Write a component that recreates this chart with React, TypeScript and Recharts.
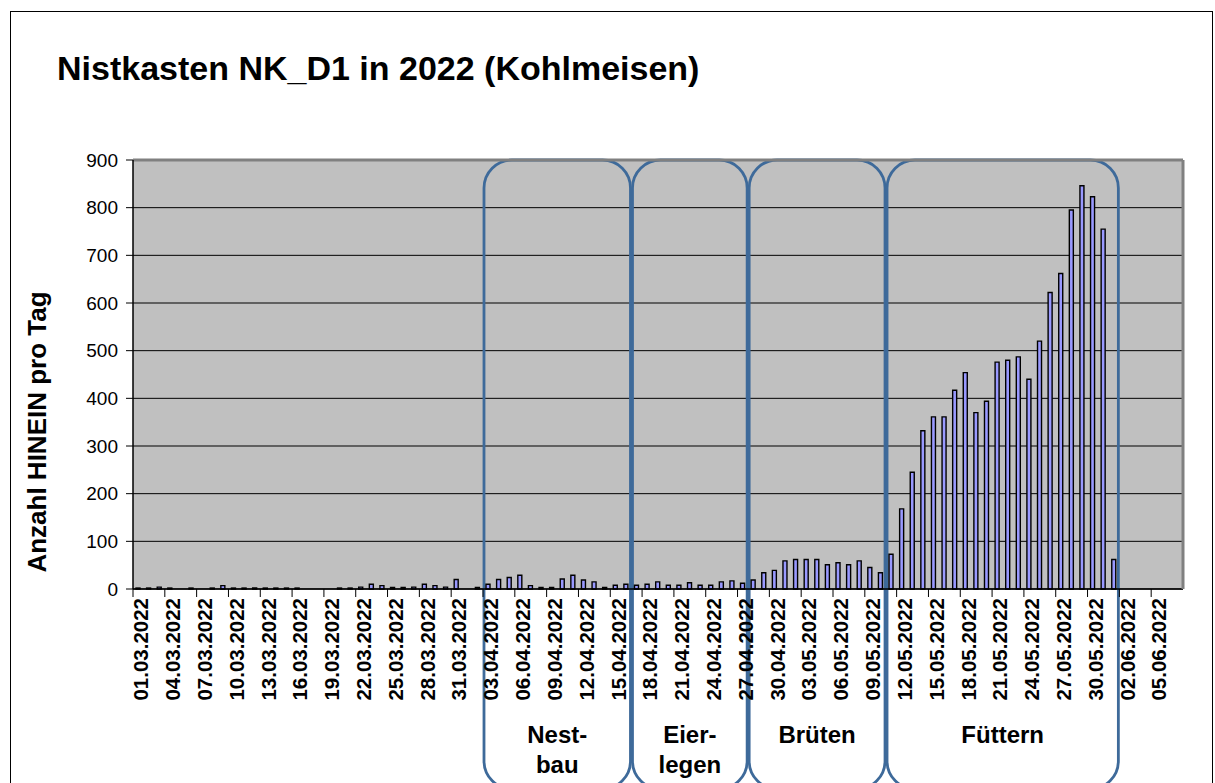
import { BarChart, Bar, XAxis, YAxis, CartesianGrid, ReferenceArea, ReferenceLine } from 'recharts';

// one category per day, 01.03.2022 .. 07.06.2022
const months: [string, number][] = [['03', 31], ['04', 30], ['05', 31], ['06', 7]];
const days: string[] = months.flatMap(([m, n]) =>
  Array.from({ length: n }, (_, i) => `${String(i + 1).padStart(2, '0')}.${m}.2022`));

// Anzahl HINEIN pro Tag
const visits = [
  2, 2, 4, 2, 0, 2, 0, 2, 7, 2,
  2, 2, 2, 2, 2, 2, 0, 0, 0, 2,
  2, 4, 10, 7, 3, 3, 4, 10, 7, 4,
  20, 0, 3, 10, 20, 24, 29, 7, 3, 3,
  21, 29, 19, 15, 3, 8, 10, 8, 10, 15,
  8, 8, 13, 8, 8, 15, 17, 12, 19, 34,
  39, 59, 62, 62, 62, 51, 55, 51, 59, 45,
  34, 73, 168, 245, 332, 361, 361, 417, 454, 370,
  394, 476, 480, 487, 440, 520, 622, 662, 795, 846,
  823, 755, 62, 0, 0, 0, 0, 0, 0,
];

const yTicks = [0, 100, 200, 300, 400, 500, 600, 700, 800, 900];

const phaseNames = [['Nest-', 'bau'], ['Eier-', 'legen'], ['Brüten'], ['Füttern']];
const phaseFrom = ['03.04.2022', '17.04.2022', '28.04.2022', '11.05.2022'];
const phaseTo = ['16.04.2022', '27.04.2022', '10.05.2022', '01.06.2022'];

const data = days.map((day, i) => ({ day, n: visits[i] }));

const FONT = '"Liberation Sans", Arial, sans-serif';
const W = 1215;
const H = 783;
const M = { top: 160, right: 30, bottom: 184, left: 83 };
const PLOT_W = W - M.left - 50 - M.right - 2;
const BAND = PLOT_W / days.length;
const BOX = '#3E6A9A';

function DateTick(props: any) {
  const { x, y, payload, index } = props;
  const tx = x - BAND / 2;
  return (
    <g>
      <line x1={tx} x2={tx} y1={y - 8} y2={y} stroke="#000" />
      {index === 96 && (
        <line x1={tx + 3 * BAND} x2={tx + 3 * BAND} y1={y - 8} y2={y} stroke="#000" />
      )}
      <text
        transform={`translate(${x + 10},${y + 1}) rotate(-90)`}
        textAnchor="end"
        fontSize={20.5}
        fontWeight="bold"
        fontFamily={FONT}
        fill="#000"
      >
        {payload.value}
      </text>
    </g>
  );
}

function PhaseBox(props: any, lines: string[]) {
  const { x, y, width, height } = props;
  const cx = x + width / 2;
  return (
    <g>
      <rect
        x={x + 1}
        y={y}
        width={width - 2}
        height={height + 200}
        rx={28}
        ry={28}
        fill="none"
        stroke={BOX}
        strokeWidth={2.8}
      />
      {lines.map((t, i) => (
        <text
          key={t}
          x={cx}
          y={y + height + 154 + i * 30}
          textAnchor="middle"
          fontSize={24}
          fontWeight="bold"
          fontFamily={FONT}
          fill="#000"
        >
          {t}
        </text>
      ))}
    </g>
  );
}

export default function App() {
  return (
    <div style={{ position: 'absolute', left: 0, top: 0, width: W, height: H, background: '#fff' }}>
      <BarChart width={W} height={H} data={data} margin={M} barSize={4}>
        <CartesianGrid vertical={false} stroke="#000" fill="#C0C0C0" fillOpacity={1} />
        <XAxis
          dataKey="day"
          interval={2}
          tickLine={false}
          tickSize={8}
          tickMargin={0}
          axisLine={{ stroke: '#000', strokeWidth: 1.5 }}
          tick={<DateTick />}
          height={10}
        />
        <YAxis
          domain={[0, 900]}
          ticks={yTicks}
          width={50}
          tickSize={7}
          tickMargin={8}
          axisLine={{ stroke: '#000', strokeWidth: 1.5 }}
          tickLine={{ stroke: '#000' }}
          tick={{ fontSize: 19, fill: '#000', fontFamily: FONT }}
        />
        <YAxis
          yAxisId="frame"
          orientation="right"
          domain={[0, 900]}
          width={2}
          tick={false}
          tickLine={false}
          axisLine={{ stroke: '#808080', strokeWidth: 3 }}
        />
        <ReferenceLine y={900} stroke="#808080" strokeWidth={3} />
        <Bar dataKey="n" fill="#9999FF" stroke="#000" strokeWidth={1.4} isAnimationActive={false} />
        {phaseNames.map((lines, i) => (
          <ReferenceArea
            key={lines[0]}
            x1={phaseFrom[i]}
            x2={phaseTo[i]}
            fill="none"
            shape={(p: any) => PhaseBox(p, lines)}
          />
        ))}
      </BarChart>
      <svg
        width={W}
        height={H}
        style={{ position: 'absolute', left: 0, top: 0, pointerEvents: 'none' }}
      >
        <rect x={10.5} y={11.5} width={1202} height={800} fill="none" stroke="#000" />
        <text x={57} y={80} fontSize={34} fontWeight="bold" fontFamily={FONT}>
          Nistkasten NK_D1 in 2022 (Kohlmeisen)
        </text>
        <text
          transform="translate(46,432) rotate(-90)"
          textAnchor="middle"
          fontSize={26}
          fontWeight="bold"
          fontFamily={FONT}
        >
          Anzahl HINEIN pro Tag
        </text>
      </svg>
    </div>
  );
}
